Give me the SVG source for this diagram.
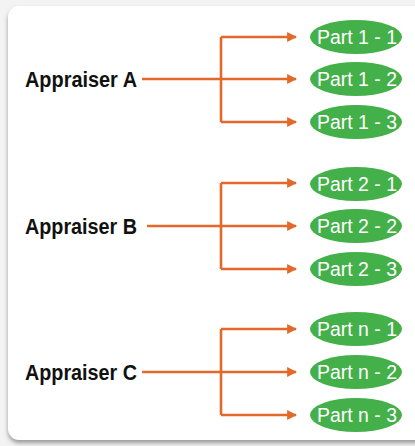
<svg xmlns="http://www.w3.org/2000/svg" width="415" height="446" viewBox="0 0 415 446">
<defs>
<style>
.lbl{font-family:"Liberation Sans",Arial,sans-serif;font-weight:bold;font-size:22px;fill:#111}
.pt{font-family:"Liberation Sans",Arial,sans-serif;font-size:20px;fill:#fff}
.el{fill:#44b04a}
.ln{stroke:#e2692a;stroke-width:2.6;fill:none}
</style>
<marker id="ah" viewBox="0 0 10 10" refX="9" refY="5" markerWidth="3.8" markerHeight="3.8" orient="auto" markerUnits="strokeWidth">
<path d="M0,0 L10,5 L0,10 z" fill="#e2692a"/>
</marker>
<filter id="sh" x="-5%" y="-5%" width="110%" height="115%">
<feGaussianBlur stdDeviation="2"/>
</filter>
</defs>
<rect width="415" height="446" fill="#f3f3f3"/>
<rect x="8" y="9" width="420" height="434" rx="11" fill="#9a9a9a" filter="url(#sh)"/>
<rect x="8" y="6" width="420" height="434" rx="11" fill="#ffffff"/>
<g id="connectors">
<path class="ln" d="M142,79 H221"/>
<path class="ln" d="M221,37 V122"/>
<path class="ln" d="M221,37 H296" marker-end="url(#ah)"/>
<path class="ln" d="M221,79 H296" marker-end="url(#ah)"/>
<path class="ln" d="M221,122 H296" marker-end="url(#ah)"/>
<path class="ln" d="M147,226 H221"/>
<path class="ln" d="M221,183 V269"/>
<path class="ln" d="M221,183 H296" marker-end="url(#ah)"/>
<path class="ln" d="M221,226 H296" marker-end="url(#ah)"/>
<path class="ln" d="M221,269 H296" marker-end="url(#ah)"/>
<path class="ln" d="M142,372 H221"/>
<path class="ln" d="M221,329 V415"/>
<path class="ln" d="M221,329 H296" marker-end="url(#ah)"/>
<path class="ln" d="M221,372 H296" marker-end="url(#ah)"/>
<path class="ln" d="M221,415 H296" marker-end="url(#ah)"/>
</g>
<g id="appraiserA"><text class="lbl" x="25" y="87" textLength="112" lengthAdjust="spacingAndGlyphs">Appraiser A</text></g>
<g id="appraiserB"><text class="lbl" x="25" y="234" textLength="112" lengthAdjust="spacingAndGlyphs">Appraiser B</text></g>
<g id="appraiserC"><text class="lbl" x="25" y="380" textLength="112" lengthAdjust="spacingAndGlyphs">Appraiser C</text></g>
<g id="part1-1"><ellipse class="el" cx="356" cy="37" rx="46" ry="17"/><text class="pt" x="317" y="44" textLength="80" lengthAdjust="spacingAndGlyphs">Part 1 - 1</text></g>
<g id="part1-2"><ellipse class="el" cx="356" cy="79" rx="46" ry="17"/><text class="pt" x="317" y="86" textLength="80" lengthAdjust="spacingAndGlyphs">Part 1 - 2</text></g>
<g id="part1-3"><ellipse class="el" cx="356" cy="122" rx="46" ry="17"/><text class="pt" x="317" y="129" textLength="80" lengthAdjust="spacingAndGlyphs">Part 1 - 3</text></g>
<g id="part2-1"><ellipse class="el" cx="356" cy="184" rx="46" ry="17"/><text class="pt" x="317" y="191" textLength="80" lengthAdjust="spacingAndGlyphs">Part 2 - 1</text></g>
<g id="part2-2"><ellipse class="el" cx="356" cy="226" rx="46" ry="17"/><text class="pt" x="317" y="233" textLength="80" lengthAdjust="spacingAndGlyphs">Part 2 - 2</text></g>
<g id="part2-3"><ellipse class="el" cx="356" cy="269" rx="46" ry="17"/><text class="pt" x="317" y="276" textLength="80" lengthAdjust="spacingAndGlyphs">Part 2 - 3</text></g>
<g id="partn-1"><ellipse class="el" cx="356" cy="329" rx="46" ry="17"/><text class="pt" x="317" y="336" textLength="80" lengthAdjust="spacingAndGlyphs">Part n - 1</text></g>
<g id="partn-2"><ellipse class="el" cx="356" cy="372" rx="46" ry="17"/><text class="pt" x="317" y="379" textLength="80" lengthAdjust="spacingAndGlyphs">Part n - 2</text></g>
<g id="partn-3"><ellipse class="el" cx="356" cy="415" rx="46" ry="17"/><text class="pt" x="317" y="422" textLength="80" lengthAdjust="spacingAndGlyphs">Part n - 3</text></g>
</svg>
